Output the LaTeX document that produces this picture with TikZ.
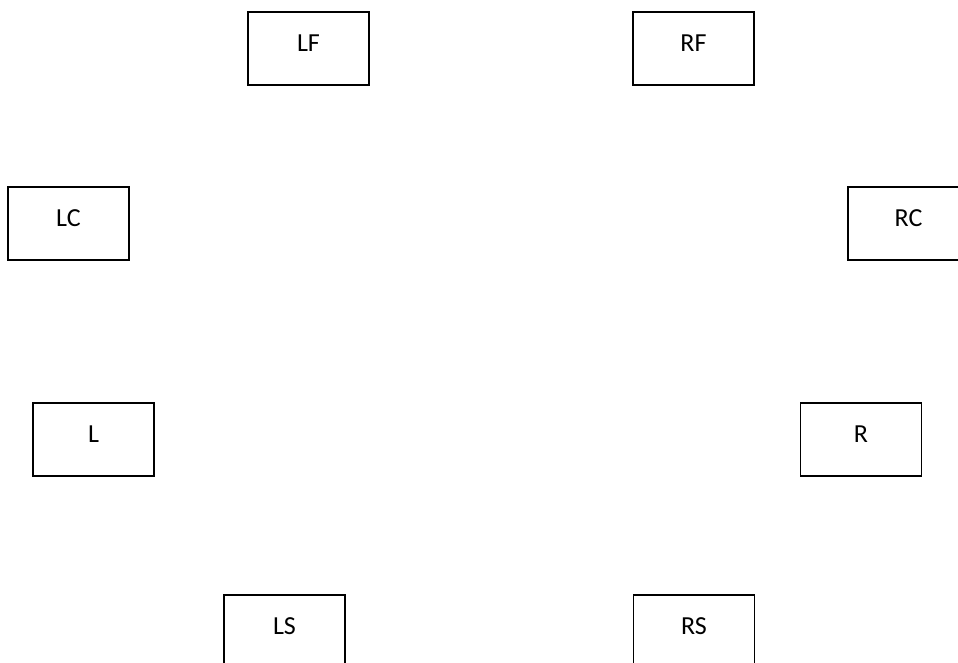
\documentclass[tikz,border=0pt]{standalone}
\usepackage{fontspec}
\setmainfont{Carlito}
\begin{document}
\begin{tikzpicture}[x=1pt,y=-1pt,
  chbox/.style={draw=black, line width=1.6pt, minimum width=121pt, minimum height=73pt,
    inner sep=0pt, text depth=11pt, font=\fontsize{26}{30}\selectfont}]
\useasboundingbox (0,0) rectangle (958,663);
\clip (0,0) rectangle (958,663);
\node[chbox] (LF) at (308.5,48.5) {LF};
\node[chbox] (RF) at (693.5,48.5) {RF};
\node[chbox] (LC) at (68.5,223.5) {LC};
\node[chbox] (RC) at (908.5,223.5) {RC};
\node[chbox] (L) at (93.5,439.5) {L};
\node[chbox] (R) at (861,439.5) {R};
\node[chbox] (LS) at (284.5,631.5) {LS};
\node[chbox] (RS) at (694,631.5) {RS};
\end{tikzpicture}
\end{document}
